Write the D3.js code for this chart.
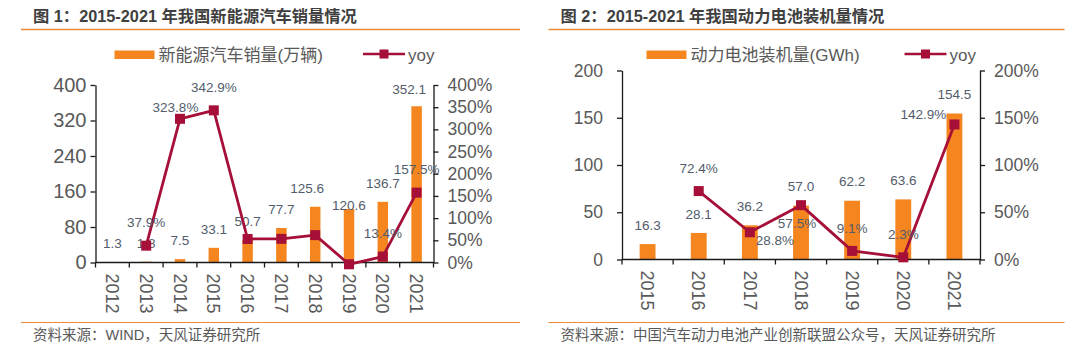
<!DOCTYPE html>
<html>
<head>
<meta charset="utf-8">
<script src="https://cdn.jsdelivr.net/npm/d3@7"></script>
<style>
  html, body { margin: 0; padding: 0; background: #ffffff; }
  svg { display: block; }
  text { font-family: "Liberation Sans", Arial, "Noto Sans CJK SC", sans-serif; }
</style>
</head>
<body>
<svg id="chart" width="1091" height="364"></svg>
<script>
// ---------- Data ----------
const titles = ["图 1：2015-2021 年我国新能源汽车销量情况", "图 2：2015-2021 年我国动力电池装机量情况"];
const sources = ["资料来源：WIND，天风证券研究所", "资料来源：中国汽车动力电池产业创新联盟公众号，天风证券研究所"];
const barNames = ["新能源汽车销量(万辆)", "动力电池装机量(GWh)"];
const lineName = "yoy";

const years1 = ["2012", "2013", "2014", "2015", "2016", "2017", "2018", "2019", "2020", "2021"];
const sales = [1.3, 1.8, 7.5, 33.1, 50.7, 77.7, 125.6, 120.6, 136.7, 352.1];
const salesYoy = [null, 37.9, 323.8, 342.9, 53.0, 53.3, 61.7, -4.0, 13.4, 157.5];
const salesYoyLabeled = ["2013", "2014", "2015", "2020", "2021"];
const salesLeftTicks = [0, 80, 160, 240, 320, 400];
const salesRightTicks = [0, 50, 100, 150, 200, 250, 300, 350, 400];

const years2 = ["2015", "2016", "2017", "2018", "2019", "2020", "2021"];
const battery = [16.3, 28.1, 36.2, 57.0, 62.2, 63.6, 154.5];
const batteryYoy = [null, 72.4, 28.8, 57.5, 9.1, 2.3, 142.9];
const batteryYoyLabeled = ["2016", "2017", "2018", "2019", "2020", "2021"];
const batteryLeftTicks = [0, 50, 100, 150, 200];
const batteryRightTicks = [0, 50, 100, 150, 200];

// ---------- Styles ----------
const ORANGE = "#F5851F";
const RULE = "#EE8A35";
const CRIMSON = "#A50F38";
const GRAY = "#595959";
const LABEL = "#525C6B";

const svg = d3.select("#chart");

function drawPanel(cfg) {
  const g = svg.append("g");
  const x = d3.scaleBand().domain(cfg.years).range([cfg.x0, cfg.x1]).padding(0);
  const yL = d3.scaleLinear().domain([0, cfg.leftMax]).range([cfg.yBot, cfg.yTop]);
  const yR = d3.scaleLinear().domain([0, cfg.rightMax]).range([cfg.yBot, cfg.yTop]);
  const cx = d => x(d) + x.bandwidth() / 2;

  // title + rules
  g.append("text").attr("x", cfg.titleX).attr("y", 21.5)
    .attr("font-family", "'Noto Sans CJK SC', sans-serif")
    .attr("font-weight", "bold").attr("font-size", 16.3).attr("fill", "#3f3f3f")
    .text(cfg.title);
  g.append("line").attr("x1", cfg.ruleX0).attr("x2", cfg.ruleX1).attr("y1", 29.5).attr("y2", 29.5)
    .attr("stroke", RULE).attr("stroke-width", 1.4);
  g.append("line").attr("x1", cfg.ruleX0).attr("x2", cfg.ruleX1).attr("y1", 322.5).attr("y2", 322.5)
    .attr("stroke", RULE).attr("stroke-width", 1.2);
  g.append("text").attr("x", cfg.titleX).attr("y", 339.5)
    .attr("font-family", "'Noto Sans CJK SC', sans-serif")
    .attr("font-size", 14.5).attr("fill", GRAY).text(cfg.source);

  // legend
  const lg = g.append("g");
  lg.append("rect").attr("x", cfg.legX).attr("y", 50.5).attr("width", 40).attr("height", 8.5).attr("fill", ORANGE);
  lg.append("text").attr("x", cfg.legX + 44).attr("y", 60.5).attr("font-size", 17).attr("fill", GRAY).text(cfg.barName);
  lg.append("line").attr("x1", cfg.legLineX).attr("x2", cfg.legLineX + 42).attr("y1", 54).attr("y2", 54)
    .attr("stroke", CRIMSON).attr("stroke-width", 2.6);
  lg.append("rect").attr("x", cfg.legLineX + 16.5).attr("y", 49.5).attr("width", 9).attr("height", 9).attr("fill", CRIMSON);
  lg.append("text").attr("x", cfg.legLineX + 45).attr("y", 60.5).attr("font-size", 17).attr("fill", GRAY).text(lineName);

  // bars
  const bw = x.bandwidth() * 0.31;
  g.append("g").selectAll("rect").data(cfg.years).join("rect")
    .attr("x", d => cx(d) - bw / 2)
    .attr("y", (d, i) => yL(cfg.bars[i]))
    .attr("width", bw)
    .attr("height", (d, i) => yL(0) - yL(cfg.bars[i]))
    .attr("fill", ORANGE);

  // axes
  const axL = d3.axisLeft(yL).tickValues(cfg.leftTicks).tickSize(5).tickSizeOuter(0).tickPadding(cfg.leftPad)
    .tickFormat(d3.format("d"));
  const gL = g.append("g").attr("transform", `translate(${cfg.x0},0)`).call(axL);
  gL.selectAll("text").attr("font-size", cfg.leftFont).attr("fill", GRAY)
    .attr("font-family", "'Liberation Sans', Arial, sans-serif");

  const axR = d3.axisRight(yR).tickValues(cfg.rightTicks).tickSize(5).tickSizeOuter(0).tickPadding(cfg.rightPad)
    .tickFormat(d => d + "%");
  const gR = g.append("g").attr("transform", `translate(${cfg.x1},0)`).call(axR);
  gR.selectAll("text").attr("font-size", 17.5).attr("fill", GRAY)
    .attr("font-family", "'Liberation Sans', Arial, sans-serif");

  [gL, gR].forEach(a => {
    a.select(".domain").attr("stroke", "#1a1a1a").attr("stroke-width", 1.3);
    a.selectAll(".tick line").attr("stroke", "#1a1a1a").attr("stroke-width", 1.3);
  });

  // x axis
  const edges = cfg.years.map(d => x(d)).concat([cfg.x1]);
  const gX = g.append("g");
  gX.append("line").attr("x1", cfg.x0).attr("x2", cfg.x1).attr("y1", cfg.yBot).attr("y2", cfg.yBot)
    .attr("stroke", "#1a1a1a").attr("stroke-width", 1.3);
  gX.selectAll("line.tk").data(edges).join("line").attr("class", "tk")
    .attr("x1", d => d).attr("x2", d => d).attr("y1", cfg.yBot).attr("y2", cfg.yBot + 5)
    .attr("stroke", "#1a1a1a").attr("stroke-width", 1.3);
  gX.selectAll("text").data(cfg.years).join("text")
    .attr("transform", d => `translate(${cx(d)},${cfg.yBot + cfg.xLabOff}) rotate(90)`)
    .attr("dy", "0.35em").attr("text-anchor", "start")
    .attr("font-size", 18).attr("fill", GRAY).text(d => d);

  // bar labels
  g.append("g").selectAll("text").data(cfg.years).join("text")
    .attr("x", (d, i) => cx(d) + ((cfg.barNudge[d] || {}).dx || 0))
    .attr("y", (d, i) => yL(cfg.bars[i]) - ((cfg.barNudge[d] || {}).up || cfg.barUp))
    .attr("dy", "0.35em").attr("text-anchor", "middle")
    .attr("font-size", 13.5).attr("fill", LABEL)
    .text((d, i) => cfg.bars[i].toFixed(1));

  // yoy line
  const pts = cfg.years.map((d, i) => ({ year: d, v: cfg.yoy[i] })).filter(p => p.v !== null);
  const line = d3.line().x(p => cx(p.year)).y(p => yR(p.v));
  g.append("path").datum(pts).attr("d", line).attr("fill", "none")
    .attr("stroke", CRIMSON).attr("stroke-width", 2.8).attr("stroke-linejoin", "round");
  g.append("g").selectAll("rect").data(pts).join("rect")
    .attr("x", p => cx(p.year) - 5).attr("y", p => yR(p.v) - 5)
    .attr("width", 10).attr("height", 10).attr("fill", CRIMSON);

  // yoy labels
  g.append("g").selectAll("text").data(pts.filter(p => cfg.yoyLabeled.includes(p.year))).join("text")
    .attr("x", p => cx(p.year) + ((cfg.yoyNudge[p.year] || {}).dx || 0))
    .attr("y", p => yR(p.v) + ((cfg.yoyNudge[p.year] || {}).dy ?? -23))
    .attr("dy", "0.35em").attr("text-anchor", "middle")
    .attr("font-size", 13.5).attr("fill", LABEL)
    .text(p => p.v.toFixed(1) + "%");
}

drawPanel({
  title: titles[0], source: sources[0], barName: barNames[0],
  years: years1, bars: sales, yoy: salesYoy, yoyLabeled: salesYoyLabeled,
  leftTicks: salesLeftTicks, rightTicks: salesRightTicks, leftMax: 400, rightMax: 400,
  x0: 95.5, x1: 433.5, yTop: 85, yBot: 262.5,
  titleX: 33, ruleX0: 21, ruleX1: 520,
  legX: 114.5, legLineX: 363,
  leftPad: 4, leftFont: 20, rightPad: 9, xLabOff: 11,
  barUp: 18.5,
  barNudge: { "2018": { dx: -8 }, "2019": { up: 4 }, "2021": { dx: -7.5, up: 17 } },
  yoyNudge: { "2014": { dx: -4.5, dy: -12 } }
});

drawPanel({
  title: titles[1], source: sources[1], barName: barNames[1],
  years: years2, bars: battery, yoy: batteryYoy, yoyLabeled: batteryYoyLabeled,
  leftTicks: batteryLeftTicks, rightTicks: batteryRightTicks, leftMax: 200, rightMax: 200,
  x0: 622, x1: 980, yTop: 70.5, yBot: 259.5,
  titleX: 560.5, ruleX0: 548.5, ruleX1: 1064.5,
  legX: 646.5, legLineX: 904.5,
  leftPad: 14, leftFont: 17.5, rightPad: 9, xLabOff: 11,
  barUp: 19,
  barNudge: {},
  yoyNudge: { "2017": { dx: 25, dy: 8 }, "2018": { dx: -4, dy: 18 }, "2021": { dx: -31, dy: -10 } }
});
</script>
</body>
</html>
